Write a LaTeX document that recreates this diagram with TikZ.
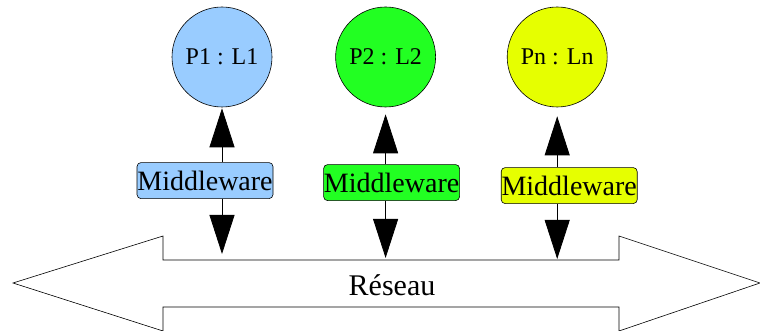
\documentclass[tikz,border=0pt]{standalone}
\usepackage{fontspec}
\setmainfont{Liberation Serif}
\usetikzlibrary{positioning, arrows.meta}

\definecolor{procblue}{HTML}{99CCFF}
\definecolor{procgreen}{HTML}{22FF22}
\definecolor{procyellow}{HTML}{E6FF00}

\begin{document}
\begin{tikzpicture}[
            x=1pt, y=1pt,
            node distance = 55pt,
            proc/.style = {draw, line width=0.6pt, shape=circle, minimum size=100pt, inner sep=0pt, font=\fontsize{24}{26}\selectfont},
            mware/.style = {draw, line width=0.6pt, rounded corners=4pt, minimum width=136pt, minimum height=36pt, inner sep=0pt, font=\fontsize{28}{30}\selectfont},
            link/.style = {draw, line width=0.8pt, -{Triangle[length=39pt, width=25pt]}},
            ]
            \useasboundingbox (0,0) rectangle (760,331);

            % processes
            \node[proc, fill=procblue] (P1) at (222,274) {P1 : L1};
            \node[proc, fill=procgreen, right=63pt of P1] (P2) {P2 : L2};
            \node[proc, fill=procyellow, right=71pt of P2] (Pn) {Pn : Ln};

            % middleware boxes
            \node[mware, fill=procblue, below=55pt of P1, xshift=-17pt] (M1) {Middleware};
            \node[mware, fill=procgreen, below=57pt of P2, xshift=6pt] (M2) {Middleware};
            \node[mware, fill=procyellow, below=60pt of Pn, xshift=12pt] (Mn) {Middleware};

            % network
            \draw[line width=0.6pt] (13,48) -- (163,95) -- (163,71) -- (619,71) -- (619,95)
                -- (760,48) -- (619,0) -- (619,24) -- (163,24) -- (163,0) -- cycle;
            \coordinate (net) at (0,71);
            \node[font=\fontsize{30}{32}\selectfont] (reseau) at (392,46) {Réseau};

            \draw[link, shorten >=1pt] (M1.north -| P1.south) -- (P1.south);
            \draw[link, shorten >=7pt] (M2.north -| P2.south) -- (P2.south);
            \draw[link, shorten >=9pt] (Mn.north -| Pn.south) -- (Pn.south);
            \draw[link, shorten >=6pt] (M1.south -| P1.south) -- (P1.south |- net);
            \draw[link, shorten >=2pt] (M2.south -| P2.south) -- (P2.south |- net);
            \draw[link, shorten >=1pt] (Mn.south -| Pn.south) -- (Pn.south |- net);
        \end{tikzpicture}
\end{document}
